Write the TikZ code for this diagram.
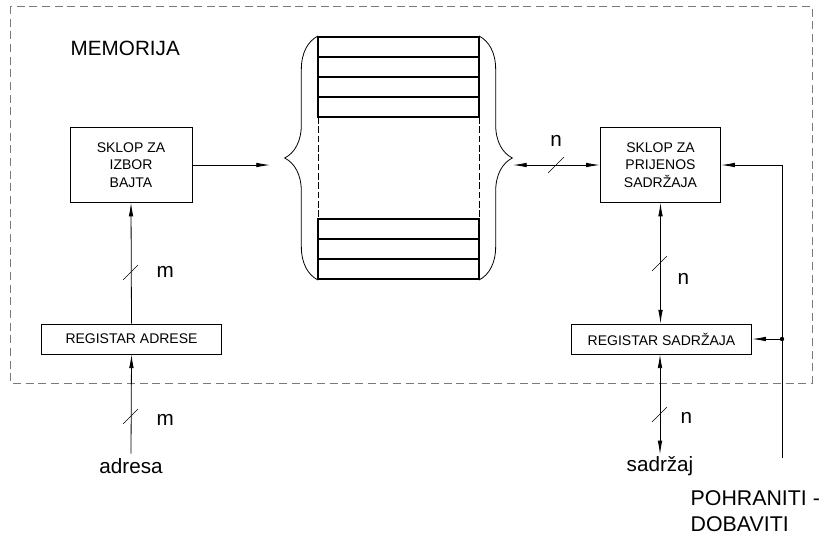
\documentclass[tikz,border=0pt]{standalone}
\usepackage{fontspec}
\setmainfont{Liberation Sans}
\definecolor{FrameGray}{HTML}{7A7A7A}
\usetikzlibrary{arrows.meta, positioning, decorations.pathreplacing}
\tikzset{
  blok/.style={draw, semithick, align=center, inner sep=2pt, font=\fontsize{10.5}{12.9}\selectfont},
  oznaka/.style={font=\fontsize{15.5}{18}\selectfont},
  arrow/.style={-{Latex[length=3.6mm, width=1.2mm]}, semithick},
  darrow/.style={{Latex[length=3.6mm, width=1.2mm]}-{Latex[length=3.6mm, width=1.2mm]}, semithick},
  crta/.style={thin}
}

\begin{document}
\begin{tikzpicture}[x=0.75pt, y=-0.75pt,
  celija/.style={draw, thick},
  zagrada/.style={decorate, decoration={brace, amplitude=25pt}, semithick}
]
\useasboundingbox (0,0) rectangle (822,537);
\draw[FrameGray, semithick, dash pattern=on 6pt off 3.5pt] (10,6) rectangle (812,383);

\node[oznaka, anchor=west] (mem) at (66,48) {MEMORIJA};

% blokovi
\node[blok, minimum width=91.5pt, minimum height=56pt] (izbor) at (131,165) {SKLOP ZA\\IZBOR\\BAJTA};
\node[blok, minimum width=135.5pt, minimum height=22.5pt] (radr) at (131.5,339) {REGISTAR ADRESE};
\node[blok, minimum width=90.5pt, minimum height=56pt] (prijenos) at (660.5,165) {SKLOP ZA\\PRIJENOS\\SADR\v{Z}AJA};
\node[blok, minimum width=135.5pt, minimum height=22.5pt] (rsad) at (661.5,339) {REGISTAR SADR\v{Z}AJA};

% memorijske lokacije
\foreach \y in {37,57,77,97,219,239,259}
  \draw[celija] (318,\y) rectangle (479,\y+20);
\draw[semithick, dash pattern=on 5pt off 2pt] (318,117) -- (318,219);
\draw[semithick, dash pattern=on 5pt off 2pt] (479,117) -- (479,219);
\draw[zagrada] (318,280) -- (318,36);
\draw[zagrada] (479,36) -- (479,280);
\coordinate (lvrh) at (270,165);
\coordinate (dvrh) at (513,165);

% veze
\draw[arrow] (izbor.east) -- (lvrh);
\draw[darrow] (dvrh) -- (prijenos.west);
\draw[crta] (548,173) -- (564,157);
\node[oznaka] (n1) at (556,141) {n};

\draw[arrow] (radr.north) -- (izbor.south);
\draw[crta] (123,280) -- (138,265);
\node[oznaka, anchor=west] (m1) at (152,272) {m};

\node[oznaka] (adresa) at (131,466) {adresa};
\draw[arrow] (adresa.north) -- (radr.south);
\draw[crta] (123,424) -- (138,409);
\node[oznaka, anchor=west] (m2) at (152,420) {m};

\draw[darrow] (rsad.north -| prijenos.south) -- (prijenos.south);
\draw[crta] (652,271) -- (667,256);
\node[oznaka, anchor=west] (n2) at (673,279) {n};

\node[oznaka] (sadrzaj) at (660,466) {sadr\v{z}aj};
\draw[darrow] (rsad.south -| sadrzaj) -- ([yshift=-2pt]sadrzaj.north);
\draw[crta] (652,422) -- (667,407);
\node[oznaka, anchor=west] (n3) at (676,418) {n};

\coordinate (dno) at (782,458);
\coordinate (cvor) at (782,339);
\draw[arrow] (dno) |- (prijenos.east);
\draw[arrow] (cvor) -- (rsad.east);
\fill (cvor) circle (2.2);

\node[oznaka, anchor=north west, align=left, font=\fontsize{16}{19.5}\selectfont] (pd) at (686,486) {POHRANITI -\\DOBAVITI};
\end{tikzpicture}
\end{document}
